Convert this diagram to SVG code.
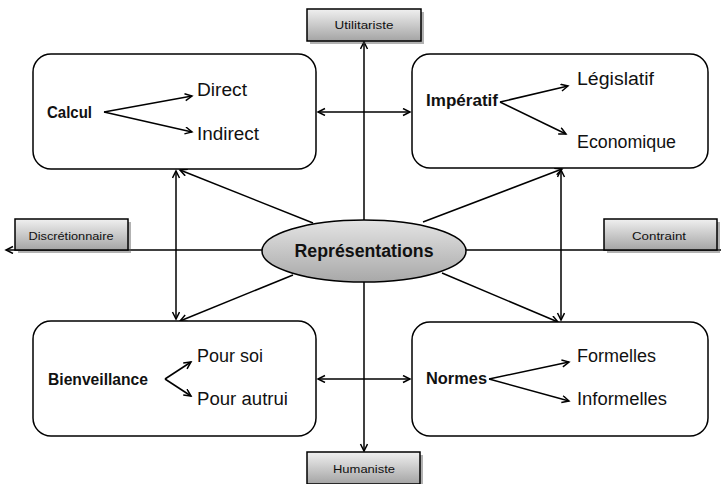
<svg xmlns="http://www.w3.org/2000/svg" width="721" height="484" viewBox="0 0 721 484">
<style>
.node{fill:#fff;stroke:#000;stroke-width:1.5}
.tag{stroke:#000;stroke-width:1.5;fill:url(#gbox)}
.shadow{fill:#555;opacity:0.45}
.ln{fill:none;stroke:#000;stroke-width:1.5}
.t{font-family:"Liberation Sans",Arial,sans-serif;font-size:18px;fill:#111}
.b{font-family:"Liberation Sans",Arial,sans-serif;font-size:16px;font-weight:bold;fill:#111}
.s{font-family:"Liberation Sans",Arial,sans-serif;font-size:11px;fill:#111;text-anchor:middle}
</style>
<defs>
<linearGradient id="gbox" x1="0" y1="0" x2="0" y2="1">
<stop offset="0" stop-color="#f0f0f0"/>
<stop offset="1" stop-color="#a4a4a4"/>
</linearGradient>
<linearGradient id="gell" x1="0" y1="0" x2="0" y2="1">
<stop offset="0" stop-color="#e4e4e4"/>
<stop offset="1" stop-color="#a8a8a8"/>
</linearGradient>
<marker id="a" markerWidth="10" markerHeight="10" refX="8" refY="4" orient="auto-start-reverse" markerUnits="userSpaceOnUse">
<path d="M1,0.5 L8,4 L1,7.5" fill="none" stroke="#000" stroke-width="1.5"/>
</marker>
</defs>

<g id="connectors">
<line class="ln" x1="364" y1="220" x2="364" y2="42" marker-end="url(#a)"/>
<line class="ln" x1="364" y1="282" x2="364" y2="451" marker-end="url(#a)"/>
<line class="ln" x1="263" y1="250" x2="6" y2="250" marker-end="url(#a)"/>
<line class="ln" x1="466" y1="250" x2="721" y2="250"/>
<line class="ln" x1="318" y1="112" x2="410" y2="112" marker-start="url(#a)" marker-end="url(#a)"/>
<line class="ln" x1="318" y1="379" x2="410" y2="379" marker-start="url(#a)" marker-end="url(#a)"/>
<line class="ln" x1="176" y1="171" x2="176" y2="319" marker-start="url(#a)" marker-end="url(#a)"/>
<line class="ln" x1="561" y1="170" x2="561" y2="320" marker-start="url(#a)" marker-end="url(#a)"/>
<line class="ln" x1="313" y1="223" x2="180" y2="170" marker-end="url(#a)"/>
<line class="ln" x1="423" y1="222" x2="562" y2="169" marker-end="url(#a)"/>
<line class="ln" x1="293" y1="275" x2="180" y2="321" marker-end="url(#a)"/>
<line class="ln" x1="442" y1="273" x2="558" y2="322" marker-end="url(#a)"/>
</g>

<g id="calcul">
<rect class="node" x="33" y="54" width="283" height="115" rx="18"/>
<text class="b" x="47" y="118" textLength="45" lengthAdjust="spacingAndGlyphs">Calcul</text>
<line class="ln" x1="104" y1="112" x2="192" y2="96" marker-end="url(#a)"/>
<line class="ln" x1="104" y1="112" x2="192" y2="132" marker-end="url(#a)"/>
<text class="t" x="197" y="96" textLength="50" lengthAdjust="spacingAndGlyphs">Direct</text>
<text class="t" x="197" y="140" textLength="62" lengthAdjust="spacingAndGlyphs">Indirect</text>
</g>

<g id="imperatif">
<rect class="node" x="412" y="54" width="296" height="114" rx="18"/>
<text class="b" x="426" y="106" textLength="72" lengthAdjust="spacingAndGlyphs">Impératif</text>
<line class="ln" x1="500" y1="102" x2="568" y2="86" marker-end="url(#a)"/>
<line class="ln" x1="500" y1="102" x2="566" y2="134" marker-end="url(#a)"/>
<text class="t" x="577" y="85" textLength="77" lengthAdjust="spacingAndGlyphs">Législatif</text>
<text class="t" x="577" y="148" textLength="99" lengthAdjust="spacingAndGlyphs">Economique</text>
</g>

<g id="bienveillance">
<rect class="node" x="33" y="321" width="283" height="115" rx="18"/>
<text class="b" x="48" y="385" textLength="100" lengthAdjust="spacingAndGlyphs">Bienveillance</text>
<line class="ln" x1="165" y1="379" x2="191" y2="362" marker-end="url(#a)"/>
<line class="ln" x1="165" y1="379" x2="191" y2="396" marker-end="url(#a)"/>
<text class="t" x="197" y="362" textLength="66" lengthAdjust="spacingAndGlyphs">Pour soi</text>
<text class="t" x="197" y="405" textLength="91" lengthAdjust="spacingAndGlyphs">Pour autrui</text>
</g>

<g id="normes">
<rect class="node" x="412" y="322" width="296" height="114" rx="18"/>
<text class="b" x="426" y="384" textLength="61" lengthAdjust="spacingAndGlyphs">Normes</text>
<line class="ln" x1="489" y1="379" x2="569" y2="362" marker-end="url(#a)"/>
<line class="ln" x1="489" y1="379" x2="569" y2="401" marker-end="url(#a)"/>
<text class="t" x="577" y="362" textLength="79" lengthAdjust="spacingAndGlyphs">Formelles</text>
<text class="t" x="577" y="405" textLength="90" lengthAdjust="spacingAndGlyphs">Informelles</text>
</g>

<g id="representations">
<ellipse cx="364" cy="251" rx="102" ry="31" fill="url(#gell)" stroke="#000" stroke-width="1.5"/>
<text x="364" y="257" text-anchor="middle" font-family="'Liberation Sans',Arial,sans-serif" font-size="18" font-weight="bold" fill="#111" textLength="139" lengthAdjust="spacingAndGlyphs">Représentations</text>
</g>

<g id="utilitariste">
<rect class="shadow" x="310" y="12" width="114" height="32"/>
<rect class="tag" x="307" y="9" width="114" height="32"/>
<text class="s" x="364" y="29" textLength="59" lengthAdjust="spacingAndGlyphs">Utilitariste</text>
</g>

<g id="discretionnaire">
<rect class="shadow" x="18" y="222" width="113" height="31"/>
<rect class="tag" x="15" y="219" width="113" height="31"/>
<text class="s" x="71" y="240" textLength="85" lengthAdjust="spacingAndGlyphs">Discrétionnaire</text>
</g>

<g id="contraint">
<rect class="shadow" x="607" y="222" width="113" height="31"/>
<rect class="tag" x="604" y="219" width="113" height="31"/>
<text class="s" x="659" y="240" textLength="54" lengthAdjust="spacingAndGlyphs">Contraint</text>
</g>

<g id="humaniste">
<rect class="shadow" x="310" y="455" width="113" height="32"/>
<rect class="tag" x="307" y="452" width="113" height="32"/>
<text class="s" x="364" y="473" textLength="62" lengthAdjust="spacingAndGlyphs">Humaniste</text>
</g>
</svg>
